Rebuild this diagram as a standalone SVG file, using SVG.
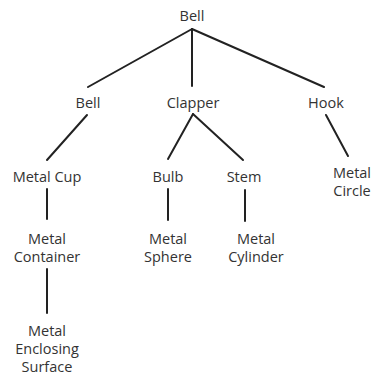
<svg xmlns="http://www.w3.org/2000/svg" width="372" height="380" viewBox="0 0 372 380">
<style>
text{font-family:"Open Sans","Noto Sans",sans-serif;font-size:14.5px;fill:#333;text-anchor:middle}
.c line{stroke:#222;stroke-width:2;stroke-linecap:round}
</style>
<rect width="372" height="380" fill="#fff"/>
<g class="c" id="connectors">
<line x1="192" y1="29" x2="88" y2="87"/>
<line x1="192" y1="29" x2="192" y2="86"/>
<line x1="192" y1="29" x2="324" y2="87"/>
<line x1="87" y1="115" x2="47" y2="160"/>
<line x1="193" y1="114" x2="168" y2="159"/>
<line x1="193" y1="114" x2="243" y2="160"/>
<line x1="326" y1="115" x2="348" y2="156"/>
<line x1="47" y1="189" x2="47" y2="219"/>
<line x1="168" y1="189" x2="168" y2="220"/>
<line x1="245" y1="190" x2="245" y2="221"/>
<line x1="47" y1="269" x2="47" y2="313"/>
</g>
<g id="n-bell-root"><text x="192" y="21">Bell</text></g>
<g id="n-bell"><text x="88" y="108">Bell</text></g>
<g id="n-clapper"><text x="193" y="108">Clapper</text></g>
<g id="n-hook"><text x="326" y="108">Hook</text></g>
<g id="n-metal-cup"><text x="47" y="182">Metal Cup</text></g>
<g id="n-bulb"><text x="168" y="182">Bulb</text></g>
<g id="n-stem"><text x="244" y="182">Stem</text></g>
<g id="n-metal-circle"><text x="352" y="178">Metal</text><text x="352" y="196">Circle</text></g>
<g id="n-metal-container"><text x="47" y="244">Metal</text><text x="47" y="262">Container</text></g>
<g id="n-metal-sphere"><text x="168" y="244">Metal</text><text x="168" y="262">Sphere</text></g>
<g id="n-metal-cylinder"><text x="256" y="244">Metal</text><text x="256" y="262">Cylinder</text></g>
<g id="n-metal-enclosing"><text x="47" y="336">Metal</text><text x="47" y="354">Enclosing</text><text x="47" y="372">Surface</text></g>
</svg>
